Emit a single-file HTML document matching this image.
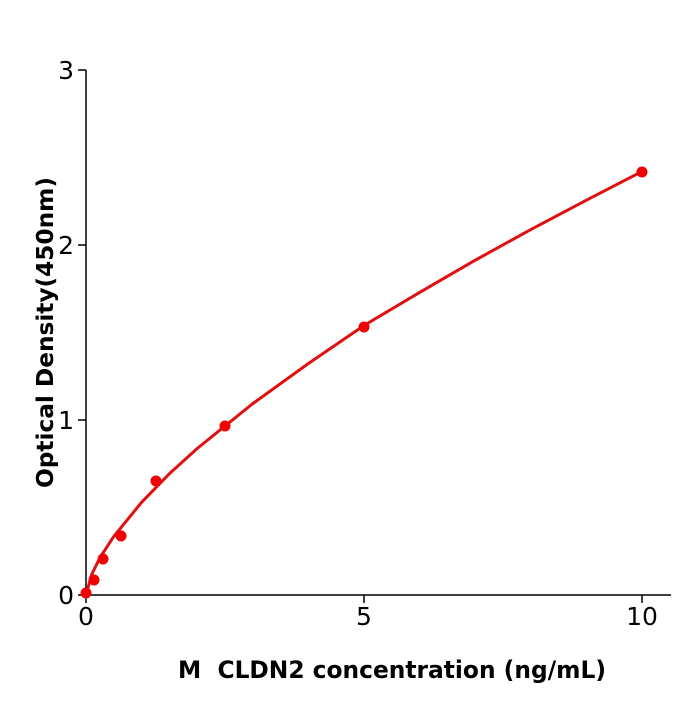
<!DOCTYPE html>
<html><head><meta charset="utf-8"><style>body{margin:0;background:#fff}</style></head><body>
<svg width="700" height="700" xmlns="http://www.w3.org/2000/svg" font-family="'DejaVu Sans','Liberation Sans',sans-serif">
<rect width="700" height="700" fill="#fff"/>
<g stroke="#000" stroke-width="1.5" fill="none">
<line x1="86" y1="70" x2="86" y2="596"/>
<line x1="85" y1="595" x2="671" y2="595"/>
<line x1="78" y1="70" x2="86" y2="70"/><line x1="78" y1="245" x2="86" y2="245"/><line x1="78" y1="420" x2="86" y2="420"/><line x1="78" y1="595" x2="86" y2="595"/>
<line x1="86" y1="595" x2="86" y2="603"/><line x1="364" y1="595" x2="364" y2="603"/><line x1="642" y1="595" x2="642" y2="603"/>
</g>
<g font-size="25" fill="#000">
<text x="74" y="79" text-anchor="end">3</text>
<text x="74" y="254" text-anchor="end">2</text>
<text x="74" y="429" text-anchor="end">1</text>
<text x="74" y="604" text-anchor="end">0</text>
<text x="86" y="625" text-anchor="middle">0</text>
<text x="364" y="625" text-anchor="middle">5</text>
<text x="642" y="625" text-anchor="middle">10</text>
</g>
<text x="178" y="678" font-size="24" font-weight="bold" xml:space="preserve" textLength="428" lengthAdjust="spacingAndGlyphs">M  CLDN2 concentration (ng/mL)</text>
<text transform="translate(53,488) rotate(-90)" font-size="23" font-weight="bold" textLength="311" lengthAdjust="spacingAndGlyphs">Optical Density(450nm)</text>
<polyline fill="none" stroke="#e01010" stroke-width="3" points="86,595 91.6,574.7 99.9,557.7 113.8,536.4 141.6,502.3 169.4,473.7 197.2,448.5 252.8,403.6 308.4,363.5 364,325.5 419.6,292.4 475.2,260.2 530.8,229.6 586.4,200.2 642,171.5"/>
<g fill="#f00000">
<circle cx="86" cy="593" r="5.5"/><circle cx="94" cy="580" r="5.5"/><circle cx="103" cy="559" r="5.5"/><circle cx="121" cy="536" r="5.5"/><circle cx="156" cy="481" r="5.5"/><circle cx="225" cy="426" r="5.5"/><circle cx="364" cy="327" r="5.5"/><circle cx="642" cy="172" r="5.5"/>
</g>
</svg>
</body></html>
